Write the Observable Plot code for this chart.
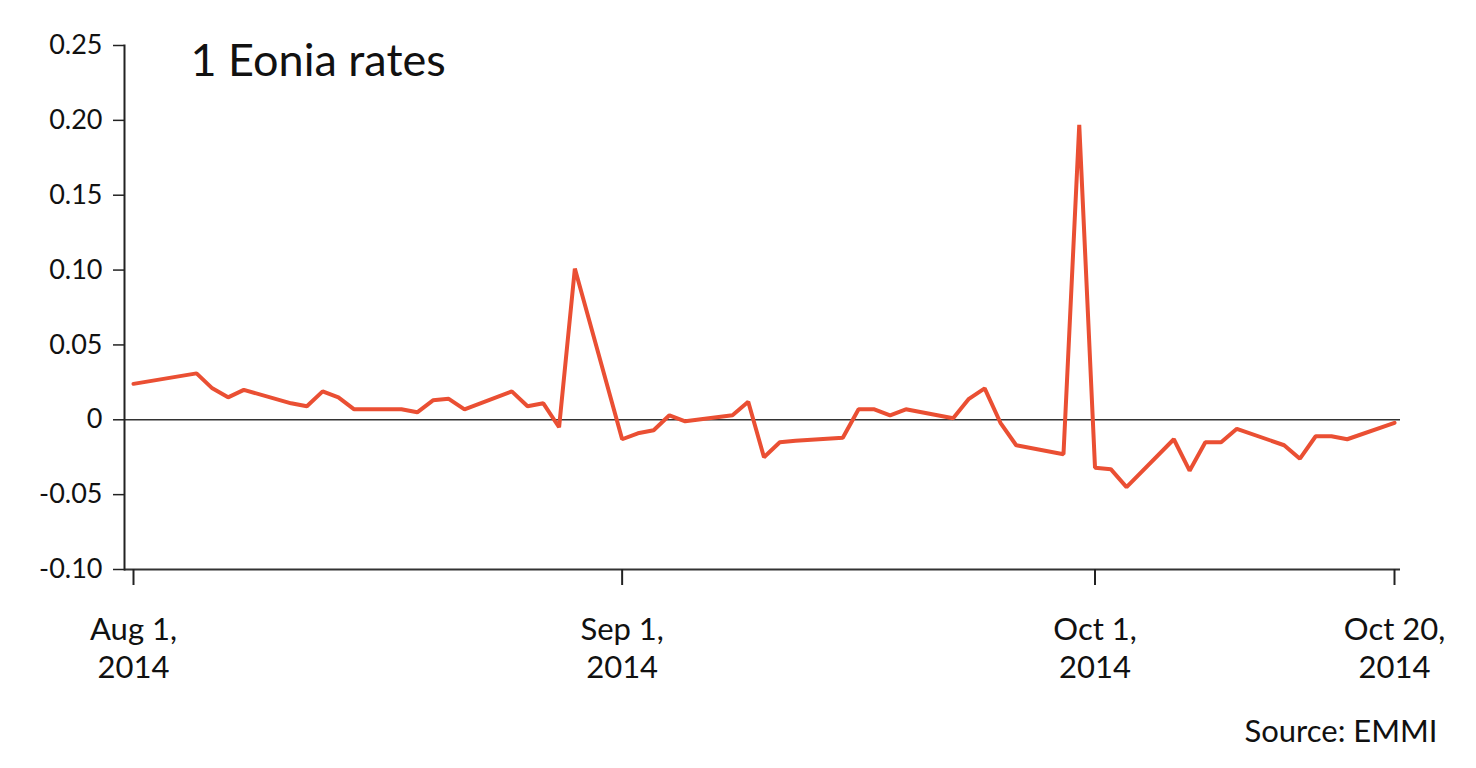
<!DOCTYPE html>
<html>
<head>
<meta charset="utf-8">
<script src="https://cdn.jsdelivr.net/npm/d3@7"></script>
<script src="https://cdn.jsdelivr.net/npm/@observablehq/plot@0.6"></script>
<style>
  html, body { margin: 0; padding: 0; background: #fff; }
  #chart { width: 1476px; height: 768px; }
</style>
</head>
<body>
<div id="chart"></div>
<script>
const titleText = "1 Eonia rates";
const sourceText = "Source: EMMI";

const dates = [
  "2014-08-01","2014-08-05","2014-08-06","2014-08-07","2014-08-08",
  "2014-08-11","2014-08-12","2014-08-13","2014-08-14","2014-08-15",
  "2014-08-18","2014-08-19","2014-08-20","2014-08-21","2014-08-22",
  "2014-08-25","2014-08-26","2014-08-27","2014-08-28","2014-08-29",
  "2014-09-01","2014-09-02","2014-09-03","2014-09-04","2014-09-05",
  "2014-09-08","2014-09-09","2014-09-10","2014-09-11","2014-09-12",
  "2014-09-15","2014-09-16","2014-09-17","2014-09-18","2014-09-19",
  "2014-09-22","2014-09-23","2014-09-24","2014-09-25","2014-09-26",
  "2014-09-29","2014-09-30","2014-10-01","2014-10-02","2014-10-03",
  "2014-10-06","2014-10-07","2014-10-08","2014-10-09","2014-10-10",
  "2014-10-13","2014-10-14","2014-10-15","2014-10-16","2014-10-17",
  "2014-10-20"
];
const rates = [
  0.024, 0.031, 0.021, 0.015, 0.020,
  0.011, 0.009, 0.019, 0.015, 0.007,
  0.007, 0.005, 0.013, 0.014, 0.007,
  0.019, 0.009, 0.011, -0.005, 0.101,
  -0.013, -0.009, -0.007, 0.003, -0.001,
  0.003, 0.012, -0.025, -0.015, -0.014,
  -0.012, 0.007, 0.007, 0.003, 0.007,
  0.001, 0.014, 0.021, -0.002, -0.017,
  -0.023, 0.197, -0.032, -0.033, -0.045,
  -0.013, -0.034, -0.015, -0.015, -0.006,
  -0.017, -0.026, -0.011, -0.011, -0.013,
  -0.002
];
const xTicks = ["2014-08-01","2014-09-01","2014-10-01","2014-10-20"];
const xTickLabels = ["Aug 1,\n2014","Sep 1,\n2014","Oct 1,\n2014","Oct 20,\n2014"];
const yTicks = [-0.10, -0.05, 0, 0.05, 0.10, 0.15, 0.20, 0.25];

const data = dates.map((d, i) => ({date: new Date(d), rate: rates[i]}));
const tickDates = xTicks.map(d => new Date(d));
const fmtX = d => xTickLabels[tickDates.findIndex(t => +t === +d)];
const fmtY = d => d === 0 ? "0" : d.toFixed(2);

const chart = Plot.plot({
  width: 1476,
  height: 768,
  marginLeft: 124,
  marginRight: 76,
  marginTop: 45,
  marginBottom: 199,
  style: {fontFamily: "Lato, 'Open Sans', sans-serif", color: "#111", background: "#fff"},
  x: {type: "utc", domain: [tickDates[0], tickDates[tickDates.length - 1]], range: [133, 1394]},
  y: {domain: [-0.10, 0.25]},
  marks: [
    Plot.ruleY([0], {stroke: "#333", strokeWidth: 1.5}),
    Plot.ruleY([-0.10], {stroke: "#333", strokeWidth: 2}),
    Plot.frame({anchor: "left", stroke: "#222", strokeWidth: 2}),
    Plot.axisY({ticks: yTicks, tickFormat: fmtY, tickSize: 11, tickPadding: 11, fontSize: 27, stroke: "#222", strokeWidth: 1.5, label: null}),
    Plot.axisX({ticks: tickDates, tickFormat: fmtX, tickSize: 16, tickPadding: 27, fontSize: 31, lineHeight: 1.24, lineAnchor: "top", stroke: "#222", strokeWidth: 2, label: null}),
    Plot.line(data, {x: "date", y: "rate", stroke: "#ea4f33", strokeWidth: 4, strokeLinejoin: "miter"}),
    Plot.text([titleText], {frameAnchor: "top-left", text: d => d, dx: 66, dy: -1, lineAnchor: "top", textAnchor: "start", fontSize: 45, fill: "#111"}),
    Plot.text([sourceText], {frameAnchor: "bottom-right", text: d => d, dx: 37, dy: 150, lineAnchor: "top", textAnchor: "end", fontSize: 31, fill: "#111"})
  ]
});
document.getElementById("chart").appendChild(chart);
</script>
</body>
</html>
